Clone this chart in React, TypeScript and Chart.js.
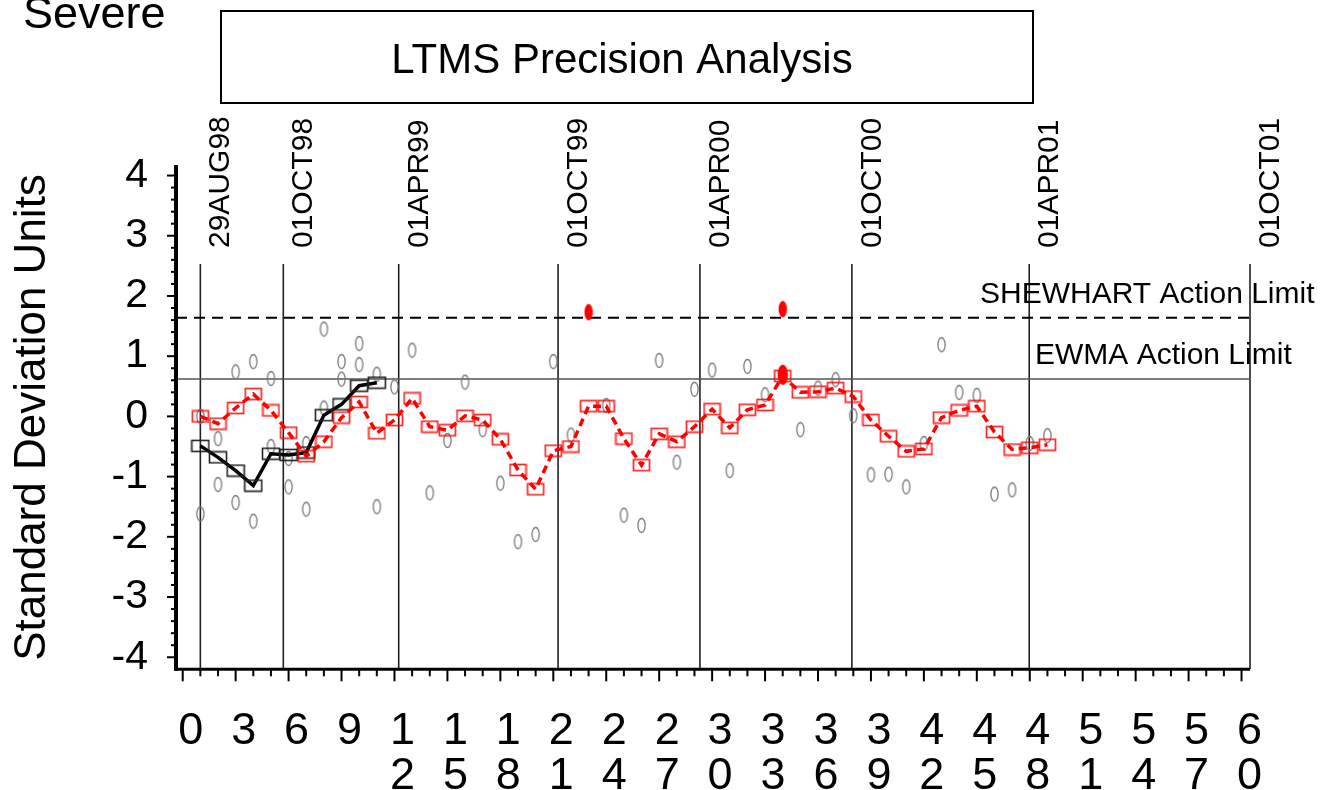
import React, { useEffect, useRef } from 'react';
import { Chart, registerables } from 'chart.js';

Chart.register(...registerables);

const FONT = '"Liberation Sans", Arial, Helvetica, sans-serif';

// EWMA of the main laboratory series (runs 1..49)
const redEwma = [
  0.0, -0.12, 0.14, 0.37, 0.1, -0.27, -0.66, -0.42, -0.02, 0.24,
  -0.28, -0.06, 0.3, -0.17, -0.23, 0.01, -0.06, -0.38, -0.89, -1.21,
  -0.57, -0.5, 0.17, 0.17, -0.37, -0.81, -0.29, -0.42, -0.17, 0.12,
  -0.19, 0.11, 0.19, 0.67, 0.4, 0.41, 0.47, 0.33, -0.06, -0.33,
  -0.58, -0.54, -0.02, 0.1, 0.17, -0.26, -0.55, -0.52, -0.47,
];
// EWMA of the second series (runs 1..11)
const blackEwma = [-0.49, -0.68, -0.9, -1.15, -0.62, -0.64, -0.6, 0.02, 0.2, 0.51, 0.56];
// individual results (one per run, runs 1..49)
const resultsA = [
  0.0, -0.37, 0.74, 0.91, 0.63, -0.7, -0.45, 1.45, 0.91, 1.21,
  0.7, 0.49, 1.1, -1.27, -0.4, 0.57, -0.22, -1.11, -2.08, -1.96,
  0.91, -0.31, null, 0.18, -1.64, -1.81, 0.93, -0.76, 0.45, 0.77,
  -0.9, 0.83, 0.36, null, -0.22, 0.47, 0.61, 0.01, -0.97, -0.96,
  -1.17, -0.45, 1.19, 0.4, 0.35, -1.29, -1.22, -0.45, -0.32,
];
// second individual results (runs 1..11)
const resultsB = [-1.62, -1.13, -1.43, -1.74, -0.5, -1.17, -1.54, 0.14, 0.62, 0.86, -1.5];
// alarms
const shewhartAlarmRuns = [23, 34];
const shewhartAlarmValues = [1.73, 1.78];
const ewmaAlarmRuns = [34];
const ewmaAlarmValues = [0.69];
// date reference lines
const dateLabels = ['29AUG98', '01OCT98', '01APR99', '01OCT99', '01APR00', '01OCT00', '01APR01', '01OCT01'];
const datePositions = [1.0, 5.7, 12.24, 21.27, 29.31, 37.92, 47.97, 60.48];
const dateLineTop = 2.53;
// limits
const shewhartLimit = 1.64;
const ewmaLimit = 0.62;
// axis ticks
const xMajorTicks = [0, 3, 6, 9, 12, 15, 18, 21, 24, 27, 30, 33, 36, 39, 42, 45, 48, 51, 54, 57, 60];
const yTickValues = [-4, -3, -2, -1, 0, 1, 2, 3, 4];

function makeCanvas(w: number, h: number, draw: (g: CanvasRenderingContext2D) => void) {
  const c = document.createElement('canvas');
  c.width = w;
  c.height = h;
  const g = c.getContext('2d')!;
  draw(g);
  return c;
}

function seriesPoints(vals: (number | null)[], runs?: number[]) {
  return vals.map((v, i) => ({ x: runs ? runs[i] : i + 1, y: v }));
}

const overlay = {
  id: 'overlay',
  beforeDatasetsDraw(chart: any) {
    const { ctx, chartArea: ca, scales } = chart;
    const xs = scales.x;
    const ys = scales.y;
    ctx.save();
    // date lines
    ctx.strokeStyle = '#222';
    ctx.lineWidth = 1.6;
    const topPx = ys.getPixelForValue(dateLineTop);
    datePositions.forEach((p) => {
      const px = xs.getPixelForValue(p);
      ctx.beginPath();
      ctx.moveTo(px, topPx);
      ctx.lineTo(px, ca.bottom);
      ctx.stroke();
    });
    // EWMA limit
    ctx.strokeStyle = '#555';
    ctx.lineWidth = 1.6;
    const ey = ys.getPixelForValue(ewmaLimit);
    ctx.beginPath();
    ctx.moveTo(ca.left, ey);
    ctx.lineTo(ca.right, ey);
    ctx.stroke();
    // Shewhart limit
    ctx.strokeStyle = '#000';
    ctx.lineWidth = 2;
    ctx.setLineDash([11, 7]);
    const sy = ys.getPixelForValue(shewhartLimit);
    ctx.beginPath();
    ctx.moveTo(ca.left, sy);
    ctx.lineTo(ca.right, sy);
    ctx.stroke();
    ctx.setLineDash([]);
    ctx.restore();
  },
  afterDraw(chart: any) {
    const { ctx, chartArea: ca, scales } = chart;
    const xs = scales.x;
    const ys = scales.y;
    ctx.save();
    ctx.strokeStyle = '#000';
    ctx.fillStyle = '#000';
    // axes
    ctx.lineWidth = 3;
    ctx.beginPath();
    ctx.moveTo(ca.left - 2, ca.bottom);
    ctx.lineTo(ca.right, ca.bottom);
    ctx.stroke();
    ctx.lineWidth = 4;
    ctx.beginPath();
    ctx.moveTo(ca.left, ca.top + 1.5);
    ctx.lineTo(ca.left, ca.bottom + 1.5);
    ctx.stroke();
    // x ticks
    ctx.lineWidth = 2;
    for (let v = 0; v <= 60; v++) {
      const px = xs.getPixelForValue(v);
      const len = v % 3 === 0 ? 12 : 7;
      ctx.beginPath();
      ctx.moveTo(px, ca.bottom);
      ctx.lineTo(px, ca.bottom + len);
      ctx.stroke();
    }
    // y ticks
    for (let i = -20; i <= 20; i++) {
      const py = ys.getPixelForValue(i / 5);
      const len = i % 5 === 0 ? 9 : 5;
      ctx.beginPath();
      ctx.moveTo(ca.left, py);
      ctx.lineTo(ca.left - len, py);
      ctx.stroke();
    }
    // title box
    ctx.lineWidth = 2;
    ctx.strokeRect(221, 11, 812, 92);
    ctx.font = `42px ${FONT}`;
    ctx.textAlign = 'center';
    ctx.textBaseline = 'alphabetic';
    ctx.fillText('LTMS Precision Analysis', 622, 73);
    // Severe
    ctx.font = `45px ${FONT}`;
    ctx.textAlign = 'left';
    ctx.fillText('Severe', 23, 28);
    // y title
    ctx.save();
    ctx.translate(33, 417.5);
    ctx.rotate(-Math.PI / 2);
    ctx.font = `44px ${FONT}`;
    ctx.textAlign = 'center';
    ctx.textBaseline = 'middle';
    ctx.fillText('Standard Deviation Units', 0, 0);
    ctx.restore();
    // date labels
    ctx.font = `30px ${FONT}`;
    dateLabels.forEach((lab, i) => {
      const px = xs.getPixelForValue(datePositions[i]);
      ctx.save();
      ctx.translate(px + 29, 248);
      ctx.rotate(-Math.PI / 2);
      ctx.textAlign = 'left';
      ctx.textBaseline = 'alphabetic';
      ctx.fillText(lab, 0, 0);
      ctx.restore();
    });
    // limit labels
    ctx.textAlign = 'left';
    ctx.textBaseline = 'alphabetic';
    ctx.fillText('SHEWHART Action Limit', 980, 303);
    ctx.fillText('EWMA Action Limit', 1035, 364);
    ctx.restore();
  },
};

export default function App() {
  const ref = useRef<HTMLCanvasElement>(null);

  useEffect(() => {
    const canvas = ref.current;
    if (!canvas) return;

    const grayEllipse = makeCanvas(11, 17, (g) => {
      g.strokeStyle = '#7a7a7a';
      g.lineWidth = 1.3;
      g.beginPath();
      g.ellipse(5.5, 8.5, 3.6, 7, 0, 0, Math.PI * 2);
      g.stroke();
    });
    const redRect = makeCanvas(19, 14, (g) => {
      g.strokeStyle = 'rgba(255,0,0,0.85)';
      g.lineWidth = 1.7;
      g.strokeRect(1.5, 1.5, 16, 11);
    });
    const blackRect = makeCanvas(20, 14, (g) => {
      g.strokeStyle = '#222';
      g.lineWidth = 1.6;
      g.strokeRect(1.5, 1.5, 17, 11);
    });
    const redDot = makeCanvas(10, 18, (g) => {
      g.fillStyle = '#ff0000';
      g.beginPath();
      g.ellipse(5, 9, 4.2, 8.2, 0, 0, Math.PI * 2);
      g.fill();
    });
    const redBigDot = makeCanvas(12, 22, (g) => {
      g.fillStyle = '#ff0000';
      g.beginPath();
      g.ellipse(6, 11, 5.2, 10.2, 0, 0, Math.PI * 2);
      g.fill();
    });

    const chart = new Chart(canvas, {
      type: 'line',
      data: {
        datasets: [
          {
            label: 'Shewhart alarm',
            data: seriesPoints(shewhartAlarmValues, shewhartAlarmRuns),
            showLine: false,
            pointStyle: redDot as any,
            pointRadius: 5,
            order: 0,
          },
          {
            label: 'EWMA alarm',
            data: seriesPoints(ewmaAlarmValues, ewmaAlarmRuns),
            showLine: false,
            pointStyle: redBigDot as any,
            pointRadius: 5,
            order: 0,
          },
          {
            label: 'EWMA',
            data: seriesPoints(redEwma),
            borderColor: '#ff0000',
            borderWidth: 3.5,
            borderDash: [8, 5],
            tension: 0,
            pointStyle: redRect as any,
            pointRadius: 5,
            order: 1,
          },
          {
            label: 'EWMA 2',
            data: seriesPoints(blackEwma),
            borderColor: '#000',
            borderWidth: 3.5,
            tension: 0,
            pointStyle: blackRect as any,
            pointRadius: 5,
            order: 2,
          },
          {
            label: 'Results A',
            data: seriesPoints(resultsA),
            showLine: false,
            pointStyle: grayEllipse as any,
            pointRadius: 5,
            order: 3,
          },
          {
            label: 'Results B',
            data: seriesPoints(resultsB),
            showLine: false,
            pointStyle: grayEllipse as any,
            pointRadius: 5,
            order: 3,
          },
        ] as any,
      },
      options: {
        responsive: false,
        animation: false,
        devicePixelRatio: 1,
        events: [],
        layout: { padding: { top: 163.5, right: 86, left: 0, bottom: 0 } },
        plugins: {
          legend: { display: false },
          tooltip: { enabled: false },
          title: { display: false },
        },
        scales: {
          x: {
            type: 'linear',
            min: -0.38,
            max: 60.48,
            grid: { display: false },
            border: { display: false },
            afterBuildTicks: (s: any) => {
              s.ticks = xMajorTicks.map((v) => ({ value: v }));
            },
            afterFit: (s: any) => {
              s.height = 120.7;
            },
            ticks: {
              autoSkip: false,
              maxRotation: 0,
              minRotation: 0,
              padding: 32,
              labelOffset: 8,
              color: '#000',
              font: { family: FONT, size: 45, lineHeight: 1 },
              callback: (v: any) => String(v).split(''),
            },
          },
          y: {
            type: 'linear',
            min: -4.2,
            max: 4.2,
            grid: { display: false },
            border: { display: false },
            afterBuildTicks: (s: any) => {
              s.ticks = yTickValues.map((v) => ({ value: v }));
            },
            afterFit: (s: any) => {
              s.width = 176;
            },
            ticks: {
              autoSkip: false,
              padding: 20,
              color: '#000',
              font: { family: FONT, size: 41 },
              callback: (v: any) => String(v),
            },
          },
        },
      } as any,
      plugins: [overlay],
    });

    return () => chart.destroy();
  }, []);

  return (
    <div style={{ position: 'absolute', left: 0, top: 0, width: 1336, height: 790 }}>
      <canvas ref={ref} width={1336} height={790} style={{ display: 'block' }} />
    </div>
  );
}
